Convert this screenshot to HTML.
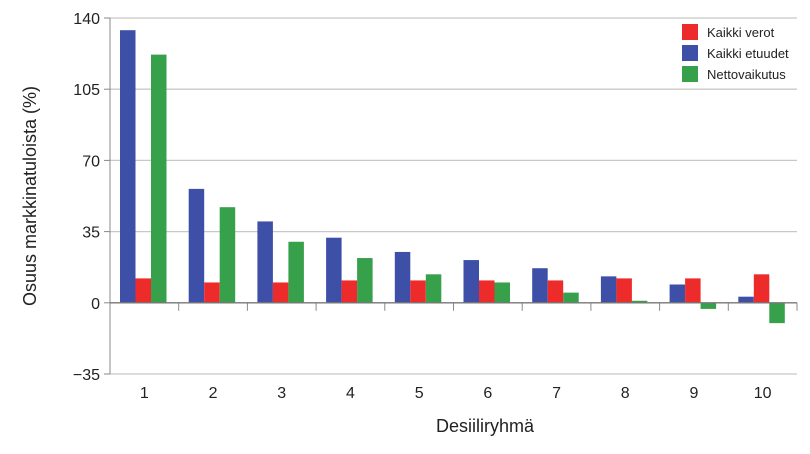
<!DOCTYPE html>
<html><head><meta charset="utf-8"><style>
body{margin:0;background:#fff;font-family:"Liberation Sans",sans-serif}
svg text{font-family:"Liberation Sans",sans-serif;fill:#222}
</style></head><body>
<svg id="chart" width="810" height="449" viewBox="0 0 810 449" xmlns="http://www.w3.org/2000/svg"></svg>
<script>
const categories=["1","2","3","4","5","6","7","8","9","10"];
const taxes=[12,10,10,11,11,11,11,12,12,14];
const benefits=[134,56,40,32,25,21,17,13,9,3];
const net=[122,47,30,22,14,10,5,1,-3,-10];
const yTicks=[-35,0,35,70,105,140];
const seriesNames=["Kaikki verot","Kaikki etuudet","Nettovaikutus"];
const colors={taxes:"#ee2b2b",benefits:"#3d4fa6",net:"#36a04a"};

const svg=document.getElementById('chart');
const NS="http://www.w3.org/2000/svg";
const L=110,R=797,T=18,B=374,yMin=-35,yMax=140;
const y=v=>T+(yMax-v)/(yMax-yMin)*(B-T);
const gw=(R-L)/categories.length;
const x=i=>L+i*gw;
function mk(tag,attrs){const e=document.createElementNS(NS,tag);for(const k in attrs)e.setAttribute(k,attrs[k]);svg.appendChild(e);return e;}

yTicks.forEach(t=>{
  if(t!==0){const g=mk('line',{x1:L,x2:R,y1:y(t),y2:y(t),stroke:'#c8c8c8','stroke-width':1.3});
  
  }
  const tk=mk('line',{x1:L-6,x2:L,y1:y(t),y2:y(t),stroke:'#888'});
  
  
  const tx=mk('text',{x:L-10,y:y(t)+6,'text-anchor':'end','font-size':16});
  tx.textContent=t<0?'\u2212'+(-t):t;
  
  
});
const ax=mk('line',{x1:L,x2:L,y1:T,y2:B,stroke:'#888','stroke-width':1});



const bw=15.5,off=10;
const series=[[benefits,colors.benefits,'benefits'],[taxes,colors.taxes,'taxes'],[net,colors.net,'net']];
categories.forEach((c,i)=>{
  series.forEach((s,j)=>{
    const v=s[0][i];
    const r=mk('rect',{x:x(i)+off+j*bw,y:Math.min(y(v),y(0)),width:bw,height:Math.abs(y(v)-y(0)),fill:s[1]});
    
    
  });
  const lb=mk('text',{x:x(i)+gw/2,y:398,'text-anchor':'middle','font-size':16});
  lb.textContent=c;
  
  
  const tk=mk('line',{x1:x(i+1),x2:x(i+1),y1:y(0),y2:y(0)+8,stroke:'#888'});
  
  
});
const zl=mk('line',{x1:L,x2:R,y1:y(0),y2:y(0),stroke:'#777','stroke-width':1.3});



const xt=mk('text',{x:485,y:432,'text-anchor':'middle','font-size':18});
xt.textContent='Desiiliryhmä';


const yt=mk('text',{x:36,y:196,'text-anchor':'middle','font-size':18,transform:'rotate(-90 36 196)'});
yt.textContent='Osuus markkinatuloista (%)';



const lc=[colors.taxes,colors.benefits,colors.net];
seriesNames.forEach((n,i)=>{
  const ly=24+i*21;
  const sw=mk('rect',{x:682,y:ly,width:16,height:16,fill:lc[i]});
  
  
  const t=mk('text',{x:707,y:ly+13,'font-size':13});
  t.textContent=n;
  
  
});
</script>
</body></html>
